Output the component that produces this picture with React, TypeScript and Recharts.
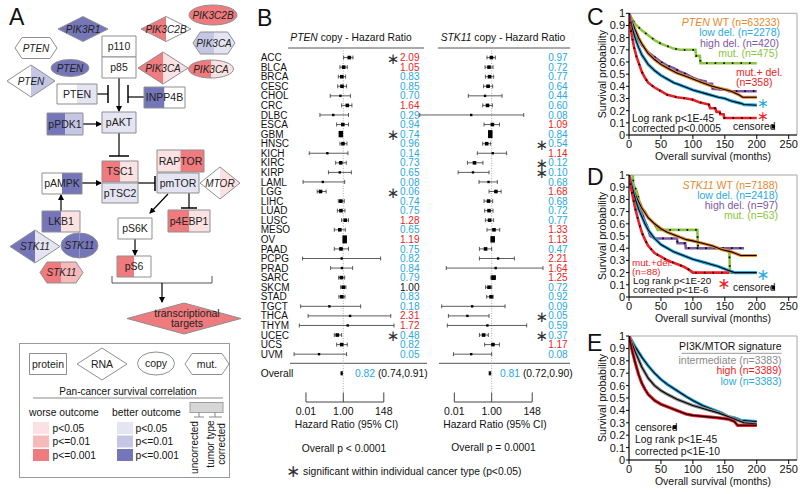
import React from "react";
import {
  ScatterChart,
  Scatter,
  XAxis,
  YAxis,
  ErrorBar,
  ReferenceLine,
  LineChart,
  Line,
  ReferenceArea,
} from "recharts";

const FONT = '"Liberation Sans", Arial, Helvetica, sans-serif';
const RED_TXT = "#ec1c24";
const BLUE_TXT = "#27a9e1";

// ---------------- Panel B data ----------------
const CANCERS = ["ACC","BLCA","BRCA","CESC","CHOL","CRC","DLBC","ESCA","GBM","HNSC","KICH","KIRC","KIRP","LAML","LGG","LIHC","LUAD","LUSC","MESO","OV","PAAD","PCPG","PRAD","SARC","SKCM","STAD","TGCT","THCA","THYM","UCEC","UCS","UVM"];

const PTEN_HR = [2.09,1.05,0.83,0.85,0.70,1.64,0.29,0.94,0.74,0.96,0.14,0.73,0.65,0.08,0.06,0.74,0.75,1.28,0.65,1.19,0.75,0.82,0.84,0.79,1.00,0.83,0.18,2.31,1.72,0.48,0.82,0.05];
const PTEN_LO = [1.04,0.66,0.54,0.50,0.20,0.81,0.056,0.44,0.62,0.66,0.015,0.39,0.16,0.007,0.04,0.54,0.48,0.81,0.33,1.0,0.33,0.0066,0.21,0.56,0.72,0.58,0.0052,0.013,0.0044,0.33,0.44,0.0023];
const PTEN_HI = [3.3,1.64,1.33,1.5,2.4,2.9,1.9,1.9,0.88,1.57,1.78,1.45,2.7,1.18,0.12,1.13,1.23,1.9,1.28,1.4,1.9,100,3.16,1.18,1.38,1.23,8.5,347,520,0.81,1.64,1.5];
const PTEN_WEIGHT = [2,2,2,2,1,2,1,2,4,2,1,2,1,1,2,2,2,2,2,5,2,1,1,2,2,2,1,1,1,2,2,1];
const PTEN_SIG = ["ACC","GBM","LGG","UCEC"];
const PTEN_OVERALL = [0.82, 0.74, 0.91];

const STK11_HR = [0.97,0.72,0.77,0.64,0.44,0.60,0.08,1.09,0.84,0.54,1.14,0.12,0.10,0.68,1.68,0.68,0.72,0.77,1.33,1.13,0.47,2.21,1.64,1.25,0.72,0.92,0.09,0.05,0.59,0.37,1.17,0.08];
const STK11_LO = [0.56,0.44,0.46,0.37,0.056,0.33,0.00014,0.39,0.72,0.33,0.17,0.05,0.016,0.21,0.72,0.39,0.42,0.46,0.56,0.95,0.22,0.22,0.0037,0.9,0.47,0.54,0.0021,0.0048,0.0042,0.22,0.42,0.009];
const STK11_HI = [1.57,1.18,1.28,1.13,3.6,1.09,52,2.6,0.98,0.88,6.3,0.34,0.72,2.0,3.2,1.13,1.18,1.28,2.7,1.35,1.0,16.4,560,1.6,1.0,1.2,5.2,0.72,75,0.66,2.6,1.0];
const STK11_WEIGHT = [2,2,2,2,1,2,1,2,5,2,1,2,1,1,2,2,2,2,2,4,2,1,1,3,2,2,1,1,1,2,2,1];
const STK11_SIG = ["HNSC","KIRC","KIRP","THCA","UCEC"];
const STK11_OVERALL = [0.81, 0.72, 0.90];

const HR_TICKS = [0.01, 1, 148];
const HR_TICK_LABELS = ["0.01", "1.00", "148"];

// ---------------- Survival data (months, survival) ----------------
const MONTH_TICKS = [0, 50, 100, 150, 200, 250];
const SURV_TICKS = [0, 0.1, 0.2, 0.3, 0.4, 0.5, 0.6, 0.7, 0.8, 0.9, 1];

const C_WT = [[0,1],[5,0.93],[10,0.86],[15,0.8],[20,0.75],[25,0.71],[30,0.67],[40,0.62],[50,0.58],[60,0.55],[75,0.51],[90,0.48],[100,0.46],[115,0.43],[130,0.40],[145,0.38],[160,0.36],[172,0.33],[178,0.31],[200,0.31]];
const C_LOWDEL = [[0,1],[5,0.88],[10,0.79],[15,0.72],[20,0.66],[25,0.62],[30,0.58],[40,0.53],[50,0.49],[60,0.46],[70,0.43],[80,0.41],[90,0.39],[100,0.37],[120,0.34],[140,0.31],[150,0.30],[160,0.28],[175,0.26],[180,0.25],[200,0.245]];
const C_HIGHDEL = [[0,1],[5,0.9],[10,0.83],[20,0.74],[30,0.68],[40,0.64],[50,0.60],[60,0.57],[70,0.55],[80,0.52],[90,0.50],[100,0.47],[110,0.45],[120,0.44],[121,0.42],[130,0.42],[131,0.38],[155,0.37],[156,0.36],[200,0.36]];
const C_MUT = [[0,1],[5,0.95],[10,0.91],[20,0.86],[30,0.82],[40,0.78],[50,0.75],[60,0.73],[70,0.71],[80,0.70],[104,0.70],[105,0.65],[111,0.65],[112,0.59],[200,0.59]];
const C_MUTDEL = [[0,1],[2,0.9],[5,0.8],[8,0.72],[12,0.64],[16,0.58],[20,0.52],[25,0.47],[30,0.43],[40,0.39],[50,0.36],[60,0.33],[75,0.31],[90,0.30],[100,0.29],[110,0.27],[125,0.25],[127,0.22],[135,0.22],[137,0.19],[142,0.19],[143,0.17],[148,0.17],[149,0.14],[200,0.14]];

const D_WT = [[0,1],[5,0.91],[10,0.84],[15,0.78],[20,0.73],[25,0.69],[30,0.65],[40,0.6],[50,0.56],[60,0.53],[75,0.5],[90,0.47],[100,0.46],[115,0.44],[130,0.42],[145,0.39],[160,0.37],[170,0.35],[175,0.34],[200,0.34]];
const D_LOWDEL = [[0,1],[5,0.9],[10,0.8],[15,0.72],[20,0.66],[25,0.6],[30,0.55],[40,0.48],[50,0.43],[60,0.4],[70,0.37],[80,0.35],[90,0.33],[100,0.31],[120,0.28],[140,0.25],[155,0.22],[165,0.20],[200,0.20]];
const D_HIGHDEL = [[0,1],[5,0.9],[10,0.82],[15,0.75],[20,0.69],[25,0.62],[30,0.56],[33,0.5],[40,0.48],[75,0.48],[76,0.44],[88,0.44],[89,0.40],[180,0.40]];
const D_MUT = [[0,1],[6,1],[7,0.92],[12,0.87],[16,0.79],[20,0.73],[25,0.7],[30,0.65],[40,0.6],[45,0.55],[107,0.55],[108,0.40],[157,0.40],[158,0.2],[200,0.2]];
const D_MUTDEL = [[0,1],[3,0.9],[6,0.82],[10,0.72],[15,0.62],[20,0.53],[25,0.47],[30,0.42],[40,0.36],[50,0.33],[60,0.30],[75,0.27],[85,0.25],[95,0.22],[100,0.20],[157,0.20]];

const E_LOW = [[0,1],[10,0.91],[20,0.83],[30,0.76],[40,0.7],[50,0.65],[60,0.61],[75,0.56],[90,0.51],[100,0.48],[115,0.44],[130,0.41],[145,0.38],[155,0.35],[165,0.34],[175,0.32],[200,0.31]];
const E_INT = [[0,1],[10,0.87],[20,0.75],[30,0.66],[40,0.6],[50,0.56],[60,0.53],[75,0.49],[90,0.46],[100,0.44],[120,0.41],[140,0.38],[155,0.35],[170,0.32],[180,0.3],[200,0.29]];
const E_HIGH = [[0,1],[5,0.88],[10,0.78],[15,0.69],[20,0.62],[25,0.57],[30,0.53],[40,0.48],[50,0.45],[60,0.43],[75,0.40],[90,0.37],[100,0.36],[120,0.35],[140,0.34],[155,0.33],[165,0.31],[170,0.28],[200,0.28]];

const ORANGE = "#e8892b";
const BLUE = "#29aae2";
const PURPLE = "#7c57a5";
const GREEN = "#8cc541";
const RED = "#ee1d23";
const GRAY = "#8a8a8a";

// ---------------- Panel A colours ----------------
const W = "#ffffff";
const DB = "#7476b9";
const LB = "#c5c6e4";
const VLB = "#e4e4f2";
const R3 = "#ef7b7e";
const R2 = "#f7baba";
const VLR = "#fbe1e1";

const A_NODES: any[] = [
  { k: "diamond", t: "PIK3R1", cx: 83, cy: 29, w: 50, h: 25, L: DB, R: DB, it: true },
  { k: "hex", t: "PTEN", cx: 36, cy: 48, w: 42, h: 21, L: W, R: W, it: true },
  { k: "ellipse", t: "PTEN", cx: 70, cy: 68, w: 38, h: 17, L: DB, R: DB, it: true },
  { k: "diamond", t: "PTEN", cx: 31, cy: 81, w: 48, h: 32, L: W, R: LB, it: true },
  { k: "box", t: "p110", cx: 119, cy: 46.5, w: 34, h: 21, L: W, R: W },
  { k: "box", t: "p85", cx: 119, cy: 67.5, w: 34, h: 21, L: W, R: W },
  { k: "diamond", t: "PIK3C2B", cx: 166, cy: 29, w: 50, h: 25, L: R3, R: W, it: true },
  { k: "ellipse", t: "PIK3C2B", cx: 213, cy: 15, w: 48, h: 20, L: R3, R: R3, it: true },
  { k: "hex", t: "PIK3CA", cx: 214, cy: 43, w: 42, h: 22, L: LB, R: VLB, it: true },
  { k: "diamond", t: "PIK3CA", cx: 163, cy: 68, w: 50, h: 32, L: R3, R: VLR, it: true },
  { k: "ellipse", t: "PIK3CA", cx: 211, cy: 69, w: 45, h: 18, L: R3, R: VLR, it: true },
  { k: "box", t: "PTEN", cx: 77, cy: 94, w: 40, h: 20, L: W, R: VLB },
  { k: "box", t: "INPP4B", cx: 164.5, cy: 97.5, w: 41, h: 21, L: DB, R: W },
  { k: "box", t: "pPDK1", cx: 65, cy: 124, w: 36, h: 22, L: DB, R: LB },
  { k: "box", t: "pAKT", cx: 119, cy: 122.5, w: 34, h: 21, L: VLB, R: VLB },
  { k: "box", t: "TSC1", cx: 120, cy: 171.5, w: 36, h: 21, L: R3, R: VLR },
  { k: "box", t: "pTSC2", cx: 120, cy: 193, w: 36, h: 20, L: VLB, R: VLB },
  { k: "box", t: "pAMPK", cx: 62, cy: 183.5, w: 40, h: 21, L: W, R: DB },
  { k: "box", t: "LKB1", cx: 61, cy: 221.5, w: 38, h: 21, L: DB, R: VLR },
  { k: "box", t: "RAPTOR", cx: 180.5, cy: 161, w: 47, h: 22, L: VLR, R: R3 },
  { k: "box", t: "pmTOR", cx: 178, cy: 183, w: 42, h: 20, L: VLB, R: VLB },
  { k: "diamond", t: "MTOR", cx: 220, cy: 183, w: 40, h: 32, L: W, R: VLR, it: true },
  { k: "box", t: "p4EBP1", cx: 189, cy: 221, w: 42, h: 22, L: R3, R: VLR },
  { k: "box", t: "pS6K", cx: 135, cy: 228.5, w: 34, h: 21, L: W, R: W },
  { k: "diamond", t: "STK11", cx: 35, cy: 246.5, w: 50, h: 33, L: DB, R: VLB, it: true },
  { k: "ellipse", t: "STK11", cx: 79.5, cy: 245.5, w: 37, h: 25, L: DB, R: DB, it: true },
  { k: "hex", t: "STK11", cx: 61.5, cy: 272.5, w: 43, h: 21, L: R3, R: R2, it: true },
  { k: "box", t: "pS6", cx: 134, cy: 266.5, w: 34, h: 21, L: R3, R: W },
  { k: "diamond", t: "transcriptional|targets", cx: 184, cy: 318.5, w: 114, h: 31, L: R3, R: R3 },
  { k: "box", t: "protein", cx: 48, cy: 364, w: 37, h: 21, L: W, R: W },
  { k: "diamond", t: "RNA", cx: 102, cy: 364, w: 50, h: 32, L: W, R: W },
  { k: "ellipse", t: "copy", cx: 156, cy: 363.5, w: 37, h: 23, L: W, R: W },
  { k: "hex", t: "mut.", cx: 207, cy: 364, w: 44, h: 21, L: W, R: W },
];

function shapePath(n: any) {
  const x0 = n.cx - n.w / 2, x1 = n.cx + n.w / 2, y0 = n.cy - n.h / 2, y1 = n.cy + n.h / 2;
  if (n.k === "box") return `M${x0},${y0}H${x1}V${y1}H${x0}Z`;
  if (n.k === "diamond") return `M${x0},${n.cy}L${n.cx},${y0}L${x1},${n.cy}L${n.cx},${y1}Z`;
  if (n.k === "hex") {
    const d = n.h / 3;
    return `M${x0},${n.cy}L${x0 + d},${y0}L${x1 - d},${y0}L${x1},${n.cy}L${x1 - d},${y1}L${x0 + d},${y1}Z`;
  }
  const rx = n.w / 2, ry = n.h / 2;
  return `M${x0},${n.cy}A${rx},${ry} 0 1 0 ${x1},${n.cy}A${rx},${ry} 0 1 0 ${x0},${n.cy}Z`;
}

function NodeShape({ n, i }: any) {
  const d = shapePath(n);
  const x0 = n.cx - n.w / 2, y0 = n.cy - n.h / 2;
  const lines = n.t.split("|");
  return (
    <g>
      <clipPath id={`ncp${i}`}><path d={d} /></clipPath>
      <g clipPath={`url(#ncp${i})`}>
        <rect x={x0} y={y0} width={n.w / 2} height={n.h} fill={n.L} />
        <rect x={n.cx} y={y0} width={n.w / 2} height={n.h} fill={n.R} />
      </g>
      <path d={d} fill="none" stroke="#8f8f8f" strokeWidth={1} />
      {lines.map((l: string, j: number) => (
        <text key={j} x={n.cx + (lines.length > 1 ? 3 : 0)} y={n.cy + (j - (lines.length - 1) / 2) * 9.5} dy="0.35em" textAnchor="middle"
          fontSize={n.it ? 10 : 10.5} fontStyle={n.it ? "italic" : undefined} fill="#222">{l}</text>
      ))}
    </g>
  );
}

const Txt = ({ x, y, a = "start", s = 10.5, c = "#111", it = false, children, rot }: any) => (
  <text x={rot ? 0 : x} y={rot ? 0 : y} dy="0.35em" textAnchor={a} fontSize={s} fill={c}
    fontStyle={it ? "italic" : undefined} transform={rot ? `translate(${x},${y}) rotate(${rot})` : undefined}>{children}</text>
);

const Star = ({ x, y, c = "#333", s = 16 }: any) => (
  <text x={x} y={y} dy="0.36em" textAnchor="middle" fontSize={s} fill={c} fontFamily="DejaVu Sans">∗</text>
);

function Overlay() {
  const ln = (x1: number, y1: number, x2: number, y2: number, arrow = false, c = "#000", w = 1.2) => (
    <line x1={x1} y1={y1} x2={x2} y2={y2} stroke={c} strokeWidth={w} markerEnd={arrow ? "url(#arr)" : undefined} />
  );
  return (
    <svg width={800} height={494} style={{ position: "absolute", left: 0, top: 0 }}>
      <defs>
        <marker id="arr" markerWidth="6" markerHeight="6" refX="5" refY="3" orient="auto" markerUnits="userSpaceOnUse">
          <path d="M0,0 L6,3 L0,6 Z" fill="#000" />
        </marker>
      </defs>
      {/* Panel A */}
      <Txt x={9} y={16.5} s={23}>A</Txt>
      {ln(97, 94, 108, 94)}
      {ln(108, 85, 108, 103, false, "#000", 1.5)}
      {ln(119, 78, 119, 111, true)}
      {ln(144, 97, 128, 97)}
      {ln(128, 85, 128, 103, false, "#000", 1.5)}
      {ln(83, 124, 101, 124, true)}
      {ln(119, 133, 119, 156)}
      {ln(109, 156, 129, 156, false, "#000", 1.5)}
      {ln(82, 183, 101, 183, true)}
      {ln(61, 211, 61, 195, true)}
      {ln(138, 183, 155, 183)}
      {ln(155, 176, 155, 191, false, "#000", 1.5)}
      {ln(168, 194, 150, 213, true)}
      {ln(189, 193, 189, 208)}
      {ln(181, 208, 197, 208, false, "#000", 1.5)}
      {ln(135, 239, 135, 255, true)}
      <path d="M112,276 V283 H212 V276" fill="none" stroke="#555" strokeWidth={1} />
      {ln(162, 283, 162, 302, true)}
      <rect x={19.5} y={343.5} width={210} height={134} fill="none" stroke="#9a9a9a" />
      {A_NODES.map((n, i) => <NodeShape key={i} n={n} i={i} />)}
      <Txt x={128} y={391.5} a="middle" s={10}>Pan-cancer survival correlation</Txt>
      {ln(33, 398, 223, 398, false, "#888", 1)}
      <Txt x={29} y={412.5} s={10.3}>worse outcome</Txt>
      <Txt x={112} y={412.5} s={10.3}>better outcome</Txt>
      {[VLR, R2, R3].map((c, i) => <rect key={`w${i}`} x={33} y={422 + i * 13.5} width={16} height={12} fill={c} />)}
      {[VLB, LB, DB].map((c, i) => <rect key={`b${i}`} x={117} y={422 + i * 13.5} width={16} height={12} fill={c} />)}
      {["p<0.05", "p<=0.01", "p<=0.001"].map((t, i) => <Txt key={`wl${i}`} x={52.5} y={428 + i * 13.5} s={10.3}>{t}</Txt>)}
      {["p<0.05", "p<=0.01", "p<=0.001"].map((t, i) => <Txt key={`bl${i}`} x={135.5} y={428 + i * 13.5} s={10.3}>{t}</Txt>)}
      <rect x={190} y={402.5} width={33} height={10} fill="#d6d6d6" stroke="#a0a0a0" />
      <path d="M199,412.5 V417 M194,417 H204 M215,412.5 V417 M209,417 H222" stroke="#888" fill="none" />
      <Txt x={194.5} y={447.5} a="middle" s={10} rot={-90}>uncorrected</Txt>
      <Txt x={210.5} y={444} a="middle" s={10} rot={-90}>tumor type</Txt>
      <Txt x={221.5} y={444} a="middle" s={10} rot={-90}>corrected</Txt>

      {/* Panel B texts */}
      <Txt x={257} y={17.5} s={23}>B</Txt>
      <text x={351} y={37.5} dy="0.35em" textAnchor="middle" fontSize={10.3} fill="#111"><tspan fontStyle="italic">PTEN</tspan> copy - Hazard Ratio</text>
      <text x={503} y={37.5} dy="0.35em" textAnchor="middle" fontSize={10.3} fill="#111"><tspan fontStyle="italic">STK11</tspan> copy - Hazard Ratio</text>
      {ln(288, 48, 424, 48, false, "#555", 1)}
      {ln(438, 48, 570, 48, false, "#555", 1)}
      {ln(290, 363.3, 427, 363.3, false, "#555", 1)}
      {ln(439, 363.3, 570, 363.3, false, "#555", 1)}
      <Txt x={346.5} y={424} a="middle" s={10.3}>Hazard Ratio (95% CI)</Txt>
      <Txt x={495} y={424} a="middle" s={10.3}>Hazard Ratio (95% CI)</Txt>
      <Txt x={344} y={448} a="middle" s={10.3}>Overall p &lt; 0.0001</Txt>
      <Txt x={493.5} y={447.5} a="middle" s={10.3}>Overall p = 0.0001</Txt>
      <Star x={293} y={471} s={17} />
      <Txt x={303} y={471} s={10.3}>significant within individual cancer type (p&lt;0.05)</Txt>

      {/* Panel C texts */}
      <Txt x={587} y={16.5} s={23}>C</Txt>
      <text x={780} y={22.3} dy="0.35em" textAnchor="end" fontSize={10.5} fill={ORANGE}><tspan fontStyle="italic">PTEN</tspan> WT (n=63233)</text>
      <Txt x={780} y={32.7} a="end" c={BLUE}>low del. (n=2278)</Txt>
      <Txt x={779} y={43.3} a="end" c={PURPLE}>high del. (n=420)</Txt>
      <Txt x={778} y={53.5} a="end" c={GREEN}>mut. (n=475)</Txt>
      <Txt x={736} y={72.7} c={RED}>mut.+ del.</Txt>
      <Txt x={736} y={82.5} c={RED}>(n=358)</Txt>
      <Star x={763} y={103} c={BLUE} s={14} />
      <Star x={763} y={116} c={RED} s={14} />
      <Txt x={632} y={118} s={10.3}>Log rank p&lt;1E-45</Txt>
      <Txt x={632} y={128.3} s={10.3}>corrected p&lt;0.0005</Txt>
      <Txt x={733} y={126.7} s={10.3}>censored</Txt>
      <rect x={771.5} y={125} width={3.5} height={3.5} fill="#000" />

      {/* Panel D texts */}
      <Txt x={587} y={176.5} s={23}>D</Txt>
      <text x={778} y={185} dy="0.35em" textAnchor="end" fontSize={10.5} fill={ORANGE}><tspan fontStyle="italic">STK11</tspan> WT (n=7188)</text>
      <Txt x={778} y={195.2} a="end" c={BLUE}>low del. (n=2418)</Txt>
      <Txt x={778} y={205.7} a="end" c={PURPLE}>high del. (n=97)</Txt>
      <Txt x={778} y={215.7} a="end" c={GREEN}>mut. (n=63)</Txt>
      <Txt x={632} y={262.5} s={9.8} c={RED}>mut.+del.</Txt>
      <Txt x={632} y={271.6} s={9.8} c={RED}>(n=88)</Txt>
      <Txt x={633} y={280.6} s={9.8}>Log rank p&lt;1E-20</Txt>
      <Txt x={633} y={289.7} s={9.8}>corrected p&lt;1E-6</Txt>
      <Star x={724} y={283.5} c={RED} />
      <Star x={763} y={274.5} c={BLUE} />
      <Txt x={733} y={287.7} s={10.3}>censored</Txt>
      <rect x={771.5} y={286} width={3.5} height={3.5} fill="#000" />

      {/* Panel E texts */}
      <Txt x={587} y={343} s={23}>E</Txt>
      <Txt x={781.5} y={346.7} a="end" s={10.5}>PI3K/MTOR signature</Txt>
      {ln(681.5, 353.3, 781.5, 353.3, false, "#999", 1)}
      <Txt x={781.5} y={360.2} a="end" c={GRAY}>intermediate (n=3383)</Txt>
      <Txt x={781.5} y={370.8} a="end" c={RED}>high (n=3389)</Txt>
      <Txt x={781.5} y={381.7} a="end" c={BLUE}>low (n=3383)</Txt>
      <Txt x={635} y={427.3} s={10.3}>censored</Txt>
      <rect x={673} y={425.5} width={3.5} height={3.5} fill="#000" />
      <Txt x={635} y={439.3} s={10.3}>Log rank p&lt;1E-45</Txt>
      <Txt x={635} y={451} s={10.3}>corrected p&lt;1E-10</Txt>
    </svg>
  );
}

// ---------------- Forest plot ----------------
function markerShape(p: any) {
  const wt = p.payload.wt;
  let w = 3.6, h = 3.6;
  if (wt === 0) { w = 1.6; h = 4; }
  else if (wt <= 1) { w = 2.4; h = 2.4; }
  else if (wt > 2) { w = 4.5; h = 1.6 * wt; }
  return <rect x={p.cx - w / 2} y={p.cy - h / 2} width={w} height={h} fill="#000" />;
}

function Forest(props: any) {
  const { left, width, marginLeft, marginRight, leftW, domain, hr, lo, hi, weight, sig, overall, showNames, nameX, hrX, starX, ovX } = props;
  const rows: any[] = CANCERS.map((name, i) => ({ name, y: i, hr: hr[i], err: [hr[i] - lo[i], hi[i] - hr[i]], wt: weight[i] }));
  rows.push({ name: "Overall", y: 33, hr: overall[0], err: [overall[0] - overall[1], overall[2] - overall[0]], wt: 0 });
  const yTicks = rows.map((r) => r.y);
  const rowTick = (p: any) => {
    const v = p.payload.value;
    const y = p.y;
    if (v === 33) {
      return (
        <g>
          {showNames ? <text x={nameX} y={y} dy="0.36em" fontSize={10.3} fill="#111">Overall</text> : null}
          <text x={ovX} y={y} dy="0.36em" fontSize={10.3} fill="#111">
            <tspan fill={BLUE_TXT}>{overall[0].toFixed(2)}</tspan>
            <tspan> ({overall[1].toFixed(2)},{overall[2].toFixed(2)})</tspan>
          </text>
        </g>
      );
    }
    const h = hr[v];
    const col = h > 1 ? RED_TXT : h < 1 ? BLUE_TXT : "#111";
    return (
      <g>
        {showNames ? <text x={nameX} y={y} dy="0.36em" fontSize={10} fill="#111">{CANCERS[v]}</text> : null}
        <text x={hrX} y={y} dy="0.36em" textAnchor="end" fontSize={10} fill={col}>{h.toFixed(2)}</text>
        {sig.includes(CANCERS[v]) ? <text x={starX} y={y} dy="0.4em" textAnchor="middle" fontSize={15} fill="#333" fontFamily="DejaVu Sans">∗</text> : null}
      </g>
    );
  };
  return (
    <div style={{ position: "absolute", left, top: 0 }}>
      <ScatterChart width={width} height={432} margin={{ top: 48, right: marginRight, bottom: 0, left: marginLeft }}>
        <XAxis type="number" dataKey="hr" scale="log" domain={domain} allowDataOverflow ticks={HR_TICKS} interval={0}
          tickFormatter={(v: any, i: number) => HR_TICK_LABELS[i]} axisLine={false} tickLine={false} height={30}
          tick={{ fontSize: 10.5, fill: "#111" }} tickMargin={0} />
        <YAxis yAxisId="L" type="number" dataKey="y" domain={[-1, 36]} reversed ticks={yTicks} interval={0} width={leftW}
          axisLine={false} tickLine={false} tick={rowTick} />
        <ReferenceLine yAxisId="L" segment={[{ x: 1, y: -1 }, { x: 1, y: 35 }]} stroke="#9a9a9a" strokeDasharray="1 1.5" strokeWidth={0.8} />
        <ReferenceLine yAxisId="L" segment={[{ x: 0.01, y: 36 }, { x: 148, y: 36 }]} stroke="#444" strokeWidth={1} />
        <ReferenceLine yAxisId="L" segment={[{ x: 0.01, y: 35 }, { x: 0.01, y: 36 }]} stroke="#444" strokeWidth={1} />
        <ReferenceLine yAxisId="L" segment={[{ x: 1, y: 35 }, { x: 1, y: 36 }]} stroke="#444" strokeWidth={1} />
        <ReferenceLine yAxisId="L" segment={[{ x: 148, y: 35 }, { x: 148, y: 36 }]} stroke="#444" strokeWidth={1} />
        <Scatter yAxisId="L" data={rows} shape={markerShape} isAnimationActive={false}>
          <ErrorBar dataKey="err" direction="x" width={2} stroke="#333" strokeWidth={0.8} />
        </Scatter>
      </ScatterChart>
    </div>
  );
}

// ---------------- Survival plots ----------------
const pts = (arr: number[][]) => arr.map(([t, s]) => ({ t, s }));
const fmtSurv = (v: number) => (v === 0 ? "0" : v === 1 ? "1" : v.toFixed(1));

function KM({ top, height, marginTop, series }: any) {
  const lines: any[] = [];
  series.forEach((s: any, i: number) => {
    const d = pts(s.pts);
    lines.push(<Line key={`c${i}`} data={d} dataKey="s" type="linear" stroke={s.color} strokeWidth={s.core ? 3.2 : 2.6} dot={false} isAnimationActive={false} />);
    if (s.core) lines.push(<Line key={`k${i}`} data={d} dataKey="s" type="linear" stroke="#000" strokeWidth={1.1} dot={false} isAnimationActive={false} />);
    if (s.cens) lines.push(<Line key={`z${i}`} data={d} dataKey="s" type="linear" stroke="#000" strokeWidth={1.8} strokeDasharray="1.6 7" dot={false} isAnimationActive={false} />);
  });
  return (
    <div style={{ position: "absolute", left: 560, top }}>
      <LineChart width={240} height={height} margin={{ top: marginTop, right: 3, bottom: 0, left: 0 }}>
        <ReferenceArea x1={0} x2={263} y1={0} y2={1} fill="none" stroke="#a6a6a6" strokeWidth={1} />
        <XAxis type="number" dataKey="t" domain={[0, 263]} allowDataOverflow ticks={MONTH_TICKS} interval={0} height={30}
          tickSize={4} tickMargin={1} stroke="#000" tick={{ fontSize: 11, fill: "#111" }}
          label={{ value: "Overall survival (months)", position: "insideBottom", offset: 5, fontSize: 10.5, fill: "#111" }} />
        <YAxis type="number" domain={[0, 1]} allowDataOverflow ticks={SURV_TICKS} interval={0} width={69} tickSize={3} tickMargin={1}
          stroke="#000" tick={{ fontSize: 11, fill: "#111" }} tickFormatter={fmtSurv}
          label={{ value: "Survival probability", angle: -90, position: "insideLeft", offset: 42, fontSize: 10.5, fill: "#111", style: { textAnchor: "middle" } }} />
        {lines}
      </LineChart>
    </div>
  );
}

export default function App() {
  return (
    <div style={{ position: "absolute", left: 0, top: 0, width: 800, height: 494, background: "#fff", fontFamily: FONT, overflow: "hidden" }}>
      <Overlay />
      <Forest left={250} width={182} marginLeft={0} marginRight={32.7} leftW={37.3} domain={[0.001, 1000]}
        hr={PTEN_HR} lo={PTEN_LO} hi={PTEN_HI} weight={PTEN_WEIGHT} sig={PTEN_SIG} overall={PTEN_OVERALL}
        showNames nameX={10.7} hrX={169.5} starX={143} ovX={105} />
      <Forest left={410} width={168} marginLeft={0} marginRight={30.3} leftW={7} domain={[0.0001, 1000]}
        hr={STK11_HR} lo={STK11_LO} hi={STK11_HI} weight={STK11_WEIGHT} sig={STK11_SIG} overall={STK11_OVERALL}
        showNames={false} nameX={0} hrX={157.7} starX={131.7} ovX={90} />
      <KM top={0} height={165} marginTop={13.3} series={[
        { pts: C_MUT, color: GREEN, cens: true },
        { pts: C_HIGHDEL, color: PURPLE, cens: true },
        { pts: C_WT, color: ORANGE, core: true },
        { pts: C_LOWDEL, color: BLUE, core: true },
        { pts: C_MUTDEL, color: RED, cens: true },
      ]} />
      <KM top={160} height={167} marginTop={15} series={[
        { pts: D_MUT, color: GREEN, cens: true },
        { pts: D_HIGHDEL, color: PURPLE, cens: true },
        { pts: D_WT, color: ORANGE, core: true },
        { pts: D_LOWDEL, color: BLUE, core: true },
        { pts: D_MUTDEL, color: RED, cens: true },
      ]} />
      <KM top={320} height={170} marginTop={16} series={[
        { pts: E_LOW, color: BLUE, core: true },
        { pts: E_INT, color: GRAY, core: true },
        { pts: E_HIGH, color: RED, core: true },
      ]} />
    </div>
  );
}
